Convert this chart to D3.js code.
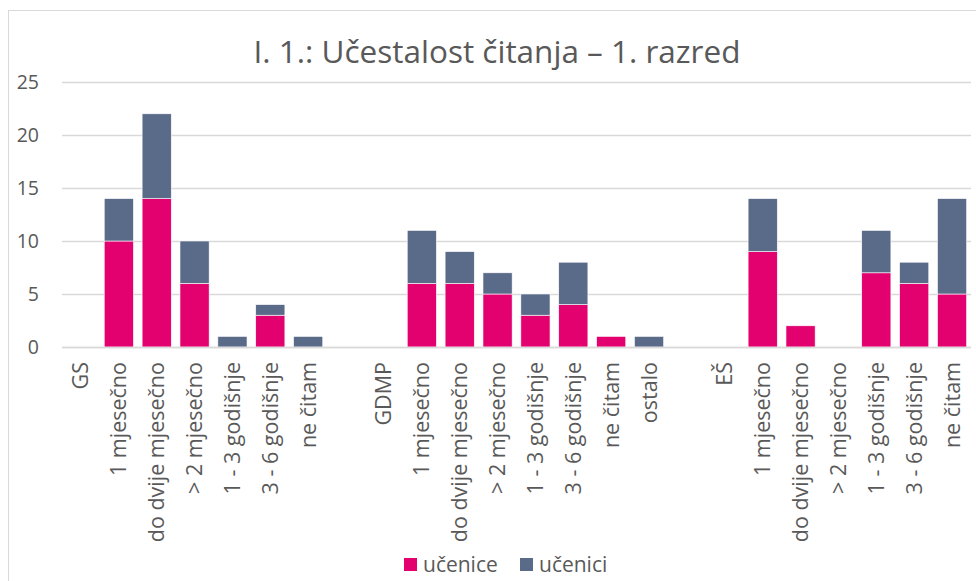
<!DOCTYPE html>
<html>
<head>
<meta charset="utf-8">
<script src="https://cdn.jsdelivr.net/npm/d3@7"></script>
<style>
  body { margin: 0; background: #fff; }
  svg { font-family: "Open Sans", "Noto Sans", sans-serif; }
</style>
</head>
<body>
<div id="chart"></div>
<script>
// x axis labels, in order (empty strings are the gaps between schools)
const categories = [
  "GS", "1 mjesečno", "do dvije mjesečno", "> 2 mjesečno", "1 - 3 godišnje", "3 - 6 godišnje", "ne čitam", "",
  "GDMP", "1 mjesečno", "do dvije mjesečno", "> 2 mjesečno", "1 - 3 godišnje", "3 - 6 godišnje", "ne čitam", "ostalo", "",
  "EŠ", "1 mjesečno", "do dvije mjesečno", "> 2 mjesečno", "1 - 3 godišnje", "3 - 6 godišnje", "ne čitam"
];
const ucenice = [0, 10, 14, 6, 0, 3, 0, 0,  0, 6, 6, 5, 3, 4, 1, 0, 0,  0, 9, 2, 0, 7, 6, 5];
const ucenici = [0, 4, 8, 4, 1, 1, 1, 0,  0, 5, 3, 2, 2, 4, 0, 1, 0,  0, 5, 0, 0, 4, 2, 9];
const yTicks = [0, 5, 10, 15, 20, 25];
const seriesNames = ["učenice", "učenici"];
const colors = ["#e3006f", "#5a6a89"];

const W = 976, H = 581;
const margin = { top: 82, right: 5, bottom: 234, left: 62 };
const width = W - margin.left - margin.right;
const height = H - margin.top - margin.bottom;

const rows = categories.map((c, i) => ({ key: i, label: c, "učenice": ucenice[i], "učenici": ucenici[i] }));
const stacked = d3.stack().keys(seriesNames)(rows);

const svg = d3.select("#chart").append("svg")
    .attr("width", W)
    .attr("height", H);

// chart frame
svg.append("rect")
    .attr("x", 8.5).attr("y", 10.5)
    .attr("width", W).attr("height", H)
    .attr("fill", "none")
    .attr("stroke", "#d9d9d9");

svg.append("text")
    .attr("x", 497)
    .attr("y", 63)
    .attr("text-anchor", "middle")
    .attr("fill", "#595959")
    .style("font-size", "31.5px")
    .text("I. 1.: Učestalost čitanja – 1. razred");

const g = svg.append("g")
    .attr("transform", `translate(${margin.left},${margin.top})`);

const x = d3.scaleBand()
    .domain(rows.map(d => d.key))
    .range([0, 909])
    .paddingInner(0.23)
    .paddingOuter(0.115);

const y = d3.scaleLinear()
    .domain([0, 25])
    .range([height, 0]);

// gridlines
g.append("g")
    .selectAll("line")
    .data(yTicks)
    .enter()
    .append("line")
    .attr("x1", 0).attr("x2", width)
    .attr("y1", d => Math.round(y(d)) + 0.5)
    .attr("y2", d => Math.round(y(d)) + 0.5)
    .attr("stroke", "#d9d9d9")
    .attr("stroke-width", 1.5);

// y axis labels
g.append("g")
    .call(d3.axisLeft(y).tickValues(yTicks).tickSize(0).tickPadding(23))
    .call(a => a.select(".domain").remove())
    .selectAll("text")
    .attr("fill", "#595959")
    .style("font-size", "19.5px")
    .style("font-family", "\"Open Sans\", sans-serif");

// bars
g.selectAll(".series")
    .data(stacked)
    .enter()
    .append("g")
    .attr("class", "series")
    .attr("fill", (d, i) => colors[i])
    .selectAll("rect")
    .data(d => d.filter(s => s[1] - s[0] > 0))
    .enter()
    .append("rect")
    .attr("x", d => x(d.data.key))
    .attr("y", d => y(d[1]))
    .attr("width", x.bandwidth())
    .attr("height", d => y(d[0]) - y(d[1]))
    .attr("stroke", "#fff")
    .attr("stroke-width", 0.6);

// x axis line + labels
g.append("line")
    .attr("x1", 0).attr("x2", width)
    .attr("y1", height + 0.5).attr("y2", height + 0.5)
    .attr("stroke", "#d9d9d9")
    .attr("stroke-width", 1.5);

const xAxis = g.append("g")
    .attr("transform", `translate(0,${height})`)
    .call(d3.axisBottom(x).tickSize(0).tickFormat(i => categories[i]));
xAxis.select(".domain").remove();
xAxis.selectAll("text")
    .attr("transform", "rotate(-90)")
    .attr("x", -15)
    .attr("y", 0)
    .attr("dy", "0.35em")
    .style("text-anchor", "end")
    .attr("fill", "#595959")
    .style("font-size", "21.5px")
    .style("font-family", "\"Open Sans\", sans-serif");

// legend
const legend = svg.append("g")
    .attr("transform", "translate(404,558)");
const items = legend.selectAll("g")
    .data(seriesNames)
    .enter()
    .append("g")
    .attr("transform", (d, i) => `translate(${i * 116},0)`);
items.append("rect")
    .attr("width", 13).attr("height", 13)
    .attr("fill", (d, i) => colors[i]);
items.append("text")
    .attr("x", 19)
    .attr("y", 14)
    .attr("fill", "#595959")
    .style("font-size", "21px")
    .text(d => d);
</script>
</body>
</html>
